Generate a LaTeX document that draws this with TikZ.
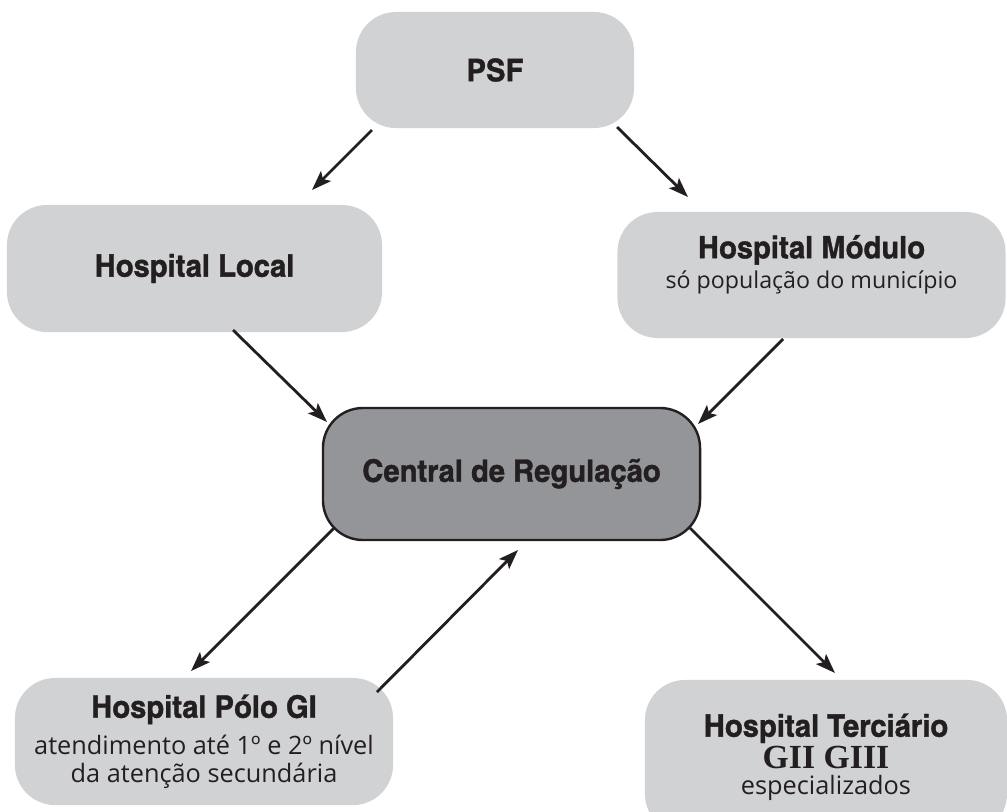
\documentclass[tikz,border=0pt]{standalone}
\usepackage{fontspec}
\setmainfont{Open Sans}
\newfontfamily\narrowfont{texgyreheroscn}[Extension=.otf, UprightFont=*-regular, BoldFont=*-bold, FakeStretch=1.15, BoldFeatures={FakeBold=1.2}]
\newfontfamily\gradefont{Liberation Serif}
\usetikzlibrary{arrows.meta}
\usetikzlibrary{positioning}

\definecolor{boxgray}{RGB}{209,210,212}
\definecolor{hubgray}{RGB}{147,149,152}
\definecolor{ink}{RGB}{35,31,32}

\newcommand{\unitfont}{\fontsize{10}{0}\selectfont\lineskiplimit=-100pt\relax}
\newcommand{\boxtitle}[1]{{\narrowfont\bfseries\fontsize{22}{0}\selectfont #1}}
\newcommand{\boxnote}[2][16.5]{{\fontsize{#1}{0}\selectfont #2}}

\tikzset{
	unit/.style={rectangle, rounded corners=1cm, fill=boxgray, text=ink, align=center, inner sep=0pt, font=\unitfont},
	hub/.style={unit, fill=hubgray, draw=ink, line width=1.7pt},
	flow/.style={->, draw=ink, line width=2pt}
}

\begin{document}
\begin{tikzpicture}[x=0.025cm,y=-0.025cm,>={Stealth[length=14pt,width=10pt,inset=3pt]}]
	\useasboundingbox (0,0) rectangle (1007,811);
	\clip (0,0) rectangle (1007,811);
	\node[unit, minimum width=6.95cm, minimum height=2.9cm] (psf) at (495,70) {\boxtitle{PSF}};
	\node[unit, minimum width=9.375cm, minimum height=3.175cm] (local) at (194.5,268.5) {\boxtitle{Hospital Local}};
	\node[unit, minimum width=9.7cm, minimum height=3.15cm] (modulo) at (811.5,275)
		{\boxtitle{Hospital Módulo}\\[21.3pt] \boxnote{só população do município\rule[-19pt]{0pt}{0pt}}};
	\node[hub, minimum width=9.425cm, minimum height=3.3cm] (central) at (511.5,474) {\boxtitle{Central de Regulação}};
	\node[unit, minimum width=9.45cm, minimum height=3.175cm] (polo) at (204,741.5)
		{\boxtitle{Hospital Pólo GI}\\[26.2pt] \boxnote[18]{atendimento até 1º e 2º nível}\\[19.8pt] \boxnote[18]{da atenção secundária}};
	\node[unit, minimum width=9.05cm, minimum height=3.85cm] (terciario) at (826,757)
		{\boxtitle{Hospital Terciário}\\[22.7pt] {\gradefont\bfseries\fontsize{24}{0}\selectfont GII GIII}\\[18.4pt] \boxnote[18]{especializados}};

	% ligacoes
	\draw[flow] ([shift={(-123,60)}]psf.center) -- ([shift={(117.5,-78.5)}]local.center);
	\draw[flow] ([shift={(122,57)}]psf.center) -- ([shift={(-123.5,-78)}]modulo.center);
	\draw[flow] ([shift={(38.5,61.5)}]local.center) -- ([shift={(-184.5,-52)}]central.center);
	\draw[flow] ([shift={(-28.5,64)}]modulo.center) -- ([shift={(186.5,-50)}]central.center);
	\draw[flow] ([shift={(-177.5,54)}]central.center) -- ([shift={(-13,-70.5)}]polo.center);
	\draw[flow] ([shift={(173,-49.5)}]polo.center) -- ([shift={(6.5,76)}]central.center);
	\draw[flow] ([shift={(178.5,54)}]central.center) -- ([shift={(9,-84)}]terciario.center);
\end{tikzpicture}
\end{document}
